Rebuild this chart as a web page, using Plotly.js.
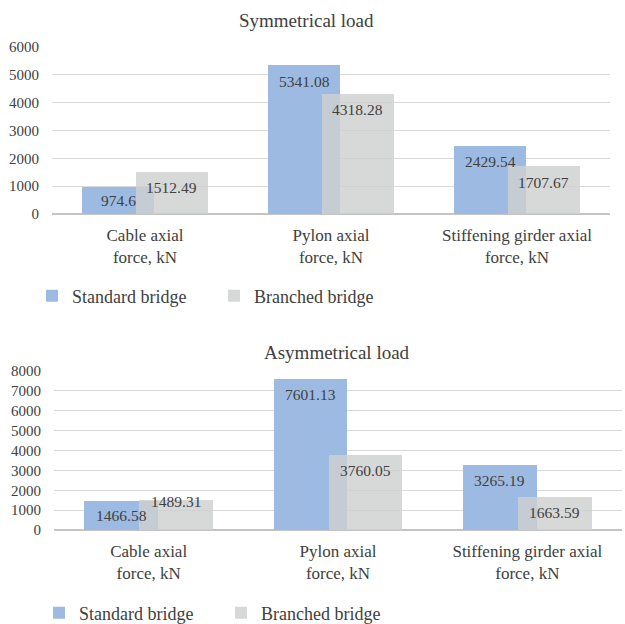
<!DOCTYPE html>
<html>
<head>
<meta charset="utf-8">
<script src="https://cdn.plot.ly/plotly-3.0.1.min.js"></script>
<style>html,body{margin:0;padding:0;background:#fff;}#chart{width:625px;height:624px;}</style>
</head>
<body>
<div id="chart"></div>
<script>
// ---- data ----
var categories = ['Cable axial<br>force, kN', 'Pylon axial<br>force, kN', 'Stiffening girder axial<br>force, kN'];
var seriesNames = ['Standard bridge', 'Branched bridge'];
var symStandard = [974.6, 5341.08, 2429.54];
var symBranched = [1512.49, 4318.28, 1707.67];
var asymStandard = [1466.58, 7601.13, 3265.19];
var asymBranched = [1489.31, 3760.05, 1663.59];
var chartTitles = ['Symmetrical load', 'Asymmetrical load'];

// ---- style ----
var FONT = 'Liberation Serif, Times New Roman, serif';
var TXT = '#404040';
var BLUE = '#9dbbe2';
var GRAY = 'rgba(206,207,207,0.82)';
var W = 0.39, OFF = 0.145;
var labelShift = {sym: [[-14, -16, -15], [-16, -16, -16]], asym: [[-15, -16, -15], [-1, -15, -16]]};

function bars(vals, idx, xa, ya, legendId) {
  return {
    type: 'bar', x: categories, y: vals, name: seriesNames[idx],
    xaxis: xa, yaxis: ya, legend: legendId,
    width: W, offset: (idx === 0 ? -OFF : OFF) - W / 2,
    marker: {color: idx === 0 ? BLUE : GRAY, line: {width: 0}},
    hoverinfo: 'y'
  };
}

var traces = [
  bars(symStandard, 0, 'x', 'y', 'legend'),
  bars(symBranched, 1, 'x', 'y', 'legend'),
  bars(asymStandard, 0, 'x2', 'y2', 'legend2'),
  bars(asymBranched, 1, 'x2', 'y2', 'legend2')
];

var annotations = [];
function addLabels(vals, idx, xref, yref, shifts) {
  vals.forEach(function (v, i) {
    annotations.push({
      xref: xref, yref: yref, x: i + (idx === 0 ? -OFF : OFF), y: v,
      text: String(v), showarrow: false, yanchor: 'middle', xanchor: 'center',
      yshift: shifts[i], font: {family: FONT, size: 15.5, color: TXT}
    });
  });
}
addLabels(symStandard, 0, 'x', 'y', labelShift.sym[0]);
addLabels(symBranched, 1, 'x', 'y', labelShift.sym[1]);
addLabels(asymStandard, 0, 'x2', 'y2', labelShift.asym[0]);
addLabels(asymBranched, 1, 'x2', 'y2', labelShift.asym[1]);

annotations.push({xref: 'paper', yref: 'paper', x: 306.5 / 625, y: 1 - 20 / 624, text: chartTitles[0],
  showarrow: false, xanchor: 'center', yanchor: 'middle', font: {family: FONT, size: 19, color: TXT}});
annotations.push({xref: 'paper', yref: 'paper', x: 337 / 625, y: 1 - 352 / 624, text: chartTitles[1],
  showarrow: false, xanchor: 'center', yanchor: 'middle', font: {family: FONT, size: 19, color: TXT}});

var xCommon = {type: 'category', showgrid: false, showline: false, zeroline: false, ticks: '',
  tickfont: {family: FONT, size: 17, color: TXT}, fixedrange: true, ticklabelstandoff: 9};
var yCommon = {showgrid: true, gridcolor: '#d9d9d9', gridwidth: 1, zeroline: true, zerolinecolor: '#c4c4c4',
  zerolinewidth: 2, showline: false, ticks: '', dtick: 1000, tickformat: 'd',
  tickfont: {family: FONT, size: 15, color: TXT}, fixedrange: true, ticklabelstandoff: 12};

var layout = {
  width: 625, height: 624,
  margin: {l: 0, r: 0, t: 0, b: 0, autoexpand: false},
  paper_bgcolor: '#fff', plot_bgcolor: '#fff',
  barmode: 'overlay', bargap: 0,
  font: {family: FONT, color: TXT},
  xaxis: Object.assign({}, xCommon, {domain: [52 / 625, 610 / 625], anchor: 'y', range: [-0.5, 2.5]}),
  yaxis: Object.assign({}, yCommon, {domain: [1 - 214 / 624, 1 - 47 / 624], anchor: 'x', range: [0, 6000]}),
  xaxis2: Object.assign({}, xCommon, {domain: [54 / 625, 622 / 625], anchor: 'y2', range: [-0.5, 2.5]}),
  yaxis2: Object.assign({}, yCommon, {domain: [1 - 530 / 624, 1 - 371 / 624], anchor: 'x2', range: [0, 8000]}),
  legend: {orientation: 'h', x: 32 / 625, y: 1 - 296 / 624, xanchor: 'left', yanchor: 'middle',
    entrywidth: 137, entrywidthmode: 'pixels', font: {family: FONT, size: 18, color: TXT}, bgcolor: 'rgba(0,0,0,0)'},
  legend2: {orientation: 'h', x: 39 / 625, y: 1 - 613 / 624, xanchor: 'left', yanchor: 'middle',
    entrywidth: 137, entrywidthmode: 'pixels', font: {family: FONT, size: 18, color: TXT}, bgcolor: 'rgba(0,0,0,0)'},
  annotations: annotations,
  showlegend: true
};

Plotly.newPlot('chart', traces, layout, {displayModeBar: false, staticPlot: true});
</script>
</body>
</html>
